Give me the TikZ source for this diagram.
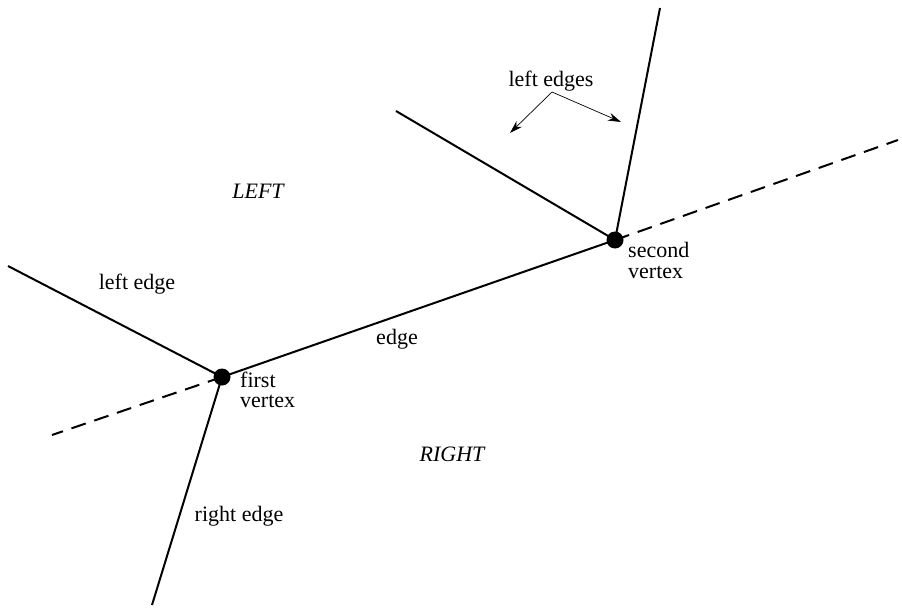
\documentclass[tikz,border=0pt]{standalone}
\usepackage{fontspec}
\setmainfont{Liberation Serif}
\usetikzlibrary{arrows.meta}
\begin{document}
\begin{tikzpicture}[x=1pt,y=-1pt,
  edgeline/.style={line width=2pt},
  dashline/.style={line width=2pt, dash pattern=on 15pt off 9pt},
  vtx/.style={circle,fill=black,inner sep=0pt,minimum size=17pt},
  lbl/.style={font=\fontsize{22}{24}\selectfont, inner sep=0pt},
  upper/.style={lbl,anchor=base west,text depth=0pt},
  lower/.style={lbl,anchor=base west,text height=11pt},
  ptr/.style={line width=0.7pt,-{Stealth[length=13pt,width=8pt]}}]
\useasboundingbox (0,0) rectangle (902,610);
\node[vtx] (v1) at (222,377) {};
\node[vtx] (v2) at (615,240) {};
\coordinate (le) at (8,266);
\coordinate (re) at (152,605);
\coordinate (d1) at (52,435);
\coordinate (d2) at (898,140);
\coordinate (up) at (660,8);
\coordinate (ul) at (396,111);
\draw[edgeline] (v1.center) -- (v2.center);
\draw[edgeline] (v1.center) -- (le);
\draw[edgeline] (v1.center) -- (re);
\draw[dashline] (v1.center) -- (d1);
\draw[dashline] (v2.center) -- (d2);
\draw[edgeline] (v2.center) -- (up);
\draw[edgeline] (v2.center) -- (ul);
\node[upper] (t1a) at (240,387) {first};
\node[lower] (t1b) at (240,407) {vertex};
\node[upper] (t2a) at (628,257) {second};
\node[lower] (t2b) at (628,278) {vertex};
\node[lbl] (tle) at (137,284) {left edge};
\node[lbl] (tedge) at (397,339) {edge};
\node[lbl] (tre) at (239,516) {right edge};
\node[lbl] (tleft) at (258,191) {\itshape LEFT};
\node[lbl] (tright) at (452,454) {\itshape RIGHT};
\node[lbl] (tles) at (551,81) {left edges};
\coordinate (a0) at (552,92);
\coordinate (a1) at (510,133);
\coordinate (a2) at (621,122);
\draw[ptr] (a0) -- (a1);
\draw[ptr] (a0) -- (a2);
\end{tikzpicture}
\end{document}
